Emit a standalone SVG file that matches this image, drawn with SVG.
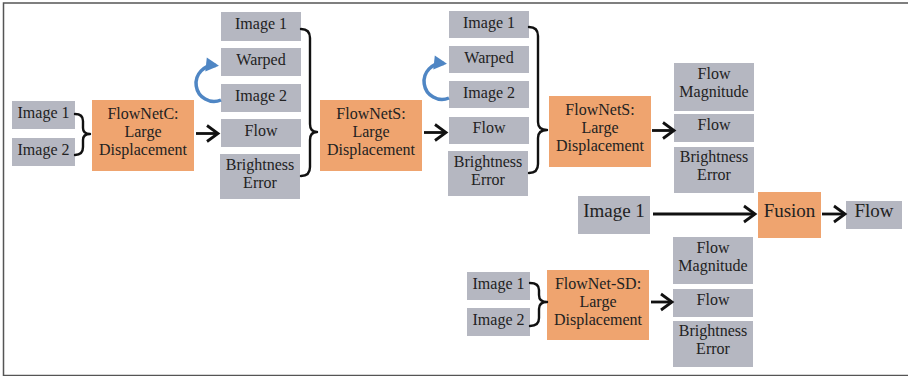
<svg xmlns="http://www.w3.org/2000/svg" width="908" height="376" viewBox="0 0 908 376">
<style>
.g{fill:#b5b7c1}
.o{fill:#efa46f}
.t{font-family:'Liberation Serif', 'DejaVu Serif', 'Times New Roman', Times, serif;font-size:16px;fill:#222;text-anchor:middle}
.big{font-size:19px}
.br{fill:none;stroke:#111;stroke-width:2.4;stroke-linecap:round;stroke-linejoin:round}
.ar{fill:none;stroke:#111;stroke-width:2.8}
.bl{fill:none;stroke:#4f86c4;stroke-width:3.5}
</style>
<defs>
<marker id="ah" markerUnits="userSpaceOnUse" markerWidth="16" markerHeight="20" viewBox="-13 -10 16 20" refX="0" refY="0" orient="auto">
<path d="M -11 -8 L 0 0 L -11 8" fill="none" stroke="#111" stroke-width="2.8"/>
</marker>
<marker id="bh" markerUnits="userSpaceOnUse" markerWidth="16" markerHeight="16" viewBox="-12 -8 16 16" refX="0" refY="0" orient="auto">
<path d="M -10 -7 L 3 0 L -10 7 Z" fill="#4f86c4"/>
</marker>
</defs>
<rect x="3.5" y="3" width="910" height="372.5" fill="#fff" stroke="#555" stroke-width="1.5"/>
<g class="t" font-family="Liberation Serif, serif">
<g id="in1a"><rect class="g" x="12" y="101" width="63" height="28"/><text x="43.5" y="118">Image 1</text></g>
<g id="in2a"><rect class="g" x="12" y="138" width="63" height="28"/><text x="43.5" y="155">Image 2</text></g>
<g id="flownetc"><rect class="o" x="92" y="100" width="102" height="71"/><text x="143" y="119">FlowNetC:</text><text x="143" y="137">Large</text><text x="143" y="155">Displacement</text></g>

<g id="c2img1"><rect class="g" x="221" y="12" width="80" height="29"/><text x="261" y="29">Image 1</text></g>
<g id="c2warped"><rect class="g" x="221" y="48" width="80" height="28"/><text x="261" y="65">Warped</text></g>
<g id="c2img2"><rect class="g" x="221" y="84" width="80" height="28"/><text x="261" y="101">Image 2</text></g>
<g id="c2flow"><rect class="g" x="221" y="119" width="80" height="28"/><text x="261" y="135.5">Flow</text></g>
<g id="c2bright"><rect class="g" x="220" y="154" width="80" height="45"/><text x="260" y="170">Brightness</text><text x="260" y="188">Error</text></g>

<g id="flownets1"><rect class="o" x="320" y="100" width="102" height="71"/><text x="371" y="119">FlowNetS:</text><text x="371" y="137">Large</text><text x="371" y="155">Displacement</text></g>

<g id="c3img1"><rect class="g" x="449" y="11" width="80" height="27"/><text x="489" y="27.5">Image 1</text></g>
<g id="c3warped"><rect class="g" x="449" y="46" width="80" height="27"/><text x="489" y="62.5">Warped</text></g>
<g id="c3img2"><rect class="g" x="449" y="81" width="80" height="27"/><text x="489" y="97.5">Image 2</text></g>
<g id="c3flow"><rect class="g" x="449" y="117" width="80" height="27"/><text x="489" y="133">Flow</text></g>
<g id="c3bright"><rect class="g" x="448" y="151" width="80" height="45"/><text x="488" y="167">Brightness</text><text x="488" y="185">Error</text></g>

<g id="flownets2"><rect class="o" x="549" y="96" width="102" height="71"/><text x="600" y="114.5">FlowNetS:</text><text x="600" y="132.5">Large</text><text x="600" y="150.5">Displacement</text></g>

<g id="c4mag"><rect class="g" x="674" y="63" width="80" height="48"/><text x="714" y="78.5">Flow</text><text x="714" y="96.5">Magnitude</text></g>
<g id="c4flow"><rect class="g" x="674" y="114" width="80" height="28"/><text x="714" y="129.5">Flow</text></g>
<g id="c4bright"><rect class="g" x="674" y="147" width="80" height="46"/><text x="714" y="162">Brightness</text><text x="714" y="180">Error</text></g>

<g id="bigimg1"><rect class="g" x="578" y="196" width="72" height="38"/><text class="big" x="614" y="217">Image 1</text></g>
<g id="fusion"><rect class="o" x="758" y="192" width="63" height="46"/><text class="big" x="789.5" y="217">Fusion</text></g>
<g id="flowout"><rect class="g" x="846" y="201" width="56" height="28"/><text class="big" x="874" y="217">Flow</text></g>

<g id="sdimg1"><rect class="g" x="467" y="272" width="63" height="28"/><text x="498.5" y="288.5">Image 1</text></g>
<g id="sdimg2"><rect class="g" x="467" y="308" width="63" height="28"/><text x="498.5" y="324.5">Image 2</text></g>
<g id="flownetsd"><rect class="o" x="547" y="270" width="102" height="70"/><text x="598" y="288.5">FlowNet-SD:</text><text x="598" y="306.5">Large</text><text x="598" y="324.5">Displacement</text></g>
<g id="sdmag"><rect class="g" x="673" y="237" width="80" height="47"/><text x="713" y="252.5">Flow</text><text x="713" y="270.5">Magnitude</text></g>
<g id="sdflow"><rect class="g" x="673" y="289" width="80" height="28"/><text x="713" y="304.5">Flow</text></g>
<g id="sdbright"><rect class="g" x="673" y="321" width="80" height="46"/><text x="713" y="336">Brightness</text><text x="713" y="354">Error</text></g>
</g>
<g id="connectors">
<path class="br" d="M75 114 Q83 114 83 121 L83 128 Q83 134 90 134 Q83 134 83 140 L83 147 Q83 155 75 155"/>
<path class="br" d="M301 29 Q310 29 310 38 L310 124 Q310 132 317 132 Q310 132 310 140 L310 167 Q310 176 301 176"/>
<path class="br" d="M529 27 Q538 27 538 36 L538 122 Q538 130 547 130 Q538 130 538 138 L538 164 Q538 173 529 173"/>
<path class="br" d="M530 283 Q539 283 539 290 L539 295 Q539 302 547 302 Q539 302 539 309 L539 318 Q539 326 530 326"/>
<line class="ar" x1="196" y1="133.5" x2="218" y2="133.5" marker-end="url(#ah)"/>
<line class="ar" x1="424" y1="132.5" x2="446" y2="132.5" marker-end="url(#ah)"/>
<line class="ar" x1="652" y1="130.5" x2="674" y2="130.5" marker-end="url(#ah)"/>
<line class="ar" x1="653" y1="214" x2="755" y2="214" marker-end="url(#ah)"/>
<line class="ar" x1="822" y1="214" x2="845" y2="214" marker-end="url(#ah)"/>
<line class="ar" x1="651" y1="302" x2="672" y2="302" marker-end="url(#ah)"/>
<path class="bl" d="M221 100 A18 18 0 1 1 216 65.5" marker-end="url(#bh)"/>
<path class="bl" d="M449 98 A18 18 0 1 1 444 63.5" marker-end="url(#bh)"/>
</g>
</svg>
